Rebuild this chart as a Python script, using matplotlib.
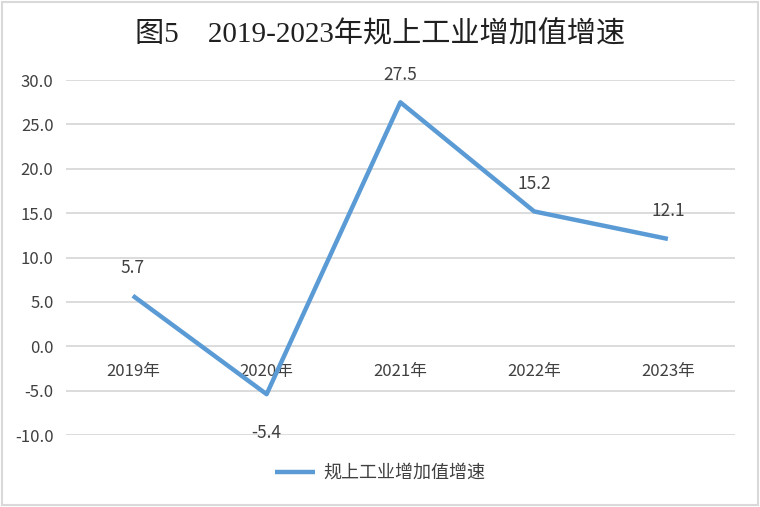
import matplotlib.pyplot as plt
from matplotlib.patches import Rectangle
from matplotlib.ticker import FuncFormatter

anos = ['2019年', '2020年', '2021年', '2022年', '2023年']
valores = [5.7, -5.4, 27.5, 15.2, 12.1]
serie = '规上工业增加值增速'
titulo = '图5　2019-2023年规上工业增加值增速'

fonte = ['Liberation Sans Narrow', 'Noto Sans CJK SC', 'DejaVu Sans']
plt.rcParams['font.family'] = fonte
cor = '#5B9BD5'
texto = '#404040'

fig = plt.figure(figsize=(7.6, 5.07), dpi=100)
ax = fig.add_axes([0.0868, 0.142, 0.88, 0.70])

x = list(range(len(anos)))
ax.plot(x, valores, color=cor, linewidth=3.2, label=serie, solid_capstyle='butt')

for xi, v in zip(x, valores):
    if v < 0:
        ax.annotate(f'{v:.1f}', (xi, v), xytext=(0, -28), textcoords='offset points',
                    ha='center', va='center', fontsize=12.5, color=texto)
    else:
        ax.annotate(f'{v:.1f}', (xi, v), xytext=(0, 20), textcoords='offset points',
                    ha='center', va='center', fontsize=12.5, color=texto)

ax.set_xlim(-0.5, 4.5)
ax.set_ylim(-10, 30)
ax.set_yticks(range(-10, 31, 5))
ax.yaxis.set_major_formatter(FuncFormatter(lambda v, p: f'{v:.1f}'))
ax.grid(axis='y', color='#D9D9D9', linewidth=1.3)
ax.set_axisbelow(True)

for s in ['top', 'right', 'left']:
    ax.spines[s].set_visible(False)
ax.spines['bottom'].set_position(('data', 0))
ax.spines['bottom'].set_visible(False)
ax.set_xticks(x)
ax.set_xticklabels(anos)
ax.tick_params(axis='x', length=0, pad=12, labelsize=12, labelcolor=texto)
ax.tick_params(axis='y', length=0, pad=9, labelsize=12, labelcolor=texto)

fig.suptitle(titulo, y=0.931, va='center', fontsize=21, color='#202020',
             family=['Liberation Serif', 'Noto Sans CJK SC'])

fig.legend(loc='center', bbox_to_anchor=(0.5, 0.067), frameon=False,
           fontsize=13, handlelength=2.2, handletextpad=0.45, labelcolor=texto)

fig.patches.append(Rectangle((0.003, 0.004), 0.994, 0.992, transform=fig.transFigure,
                             fill=False, edgecolor='#D9D9D9', linewidth=1.5))

fig.savefig('out.png', dpi=100)
